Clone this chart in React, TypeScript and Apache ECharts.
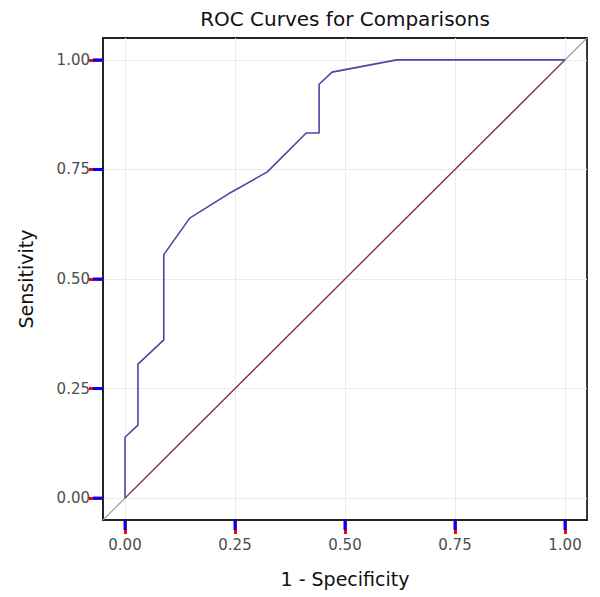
import React, { useEffect, useRef } from "react";
import * as echarts from "echarts";

const fpr = [0, 0, 0.0294, 0.0294, 0.0882, 0.0882, 0.1471, 0.2353, 0.3235, 0.4118, 0.4412, 0.4412, 0.4706, 0.6176, 1.0];
const tpr = [0, 0.1389, 0.1667, 0.3056, 0.3611, 0.5556, 0.6389, 0.6944, 0.7444, 0.8333, 0.8333, 0.9444, 0.9722, 1.0, 1.0];
const refLine = [[0, 0], [1, 1]];
const fullDiag = [[-0.05, -0.05], [1.05, 1.05]];
const tickValues = [0, 0.25, 0.5, 0.75, 1.0];
const axisMin = -0.05;
const axisMax = 1.05;

export default function App() {
  const ref = useRef<HTMLDivElement>(null);
  useEffect(() => {
    if (!ref.current) return;
    const chart = echarts.init(ref.current, null, { renderer: "svg" });
    const gridL = 103, gridR = 13, gridT = 38, gridB = 77;
    const labelStyle = {
      customValues: tickValues,
      formatter: (v: number) => v.toFixed(2),
      color: "#4d4d4d",
      fontSize: 15,
      fontFamily: "DejaVu Sans",
    };
    const axisBase = {
      type: "value",
      min: axisMin,
      max: axisMax,
      axisLine: { show: true, onZero: false, lineStyle: { color: "#222", width: 1.8 } },
      axisTick: { show: true, inside: false, length: 14, customValues: tickValues, lineStyle: { color: "#ff0000", width: 3 } },
      splitLine: { show: true, customValues: tickValues, lineStyle: { color: "#ebebeb", width: 1 } },
    };
    const texts = [
      {
        type: "text",
        x: 345,
        y: 19,
        style: {
          text: "ROC Curves for Comparisons",
          fill: "#111",
          font: "20px 'DejaVu Sans'",
          textAlign: "center",
          textVerticalAlign: "middle",
        },
      },
      {
        type: "text",
        x: 345,
        y: 579,
        style: {
          text: "1 - Specificity",
          fill: "#111",
          font: "19px 'DejaVu Sans'",
          textAlign: "center",
          textVerticalAlign: "middle",
        },
      },
      {
        type: "text",
        x: 26,
        y: 279,
        rotation: Math.PI / 2,
        style: {
          text: "Sensitivity",
          fill: "#111",
          font: "19px 'DejaVu Sans'",
          textAlign: "center",
          textVerticalAlign: "middle",
        },
      },
    ];
    chart.setOption({
      animation: false,
      backgroundColor: "#ffffff",
      grid: {
        left: gridL,
        right: gridR,
        top: gridT,
        bottom: gridB,
        show: true,
        borderColor: "#222",
        borderWidth: 1.8,
        backgroundColor: "transparent",
      },
      xAxis: { ...axisBase, axisLabel: { ...labelStyle, margin: 17 } },
      yAxis: { ...axisBase, axisLabel: { ...labelStyle, margin: 13 } },
      graphic: texts,
      series: [
        {
          type: "line",
          data: fullDiag,
          symbol: "none",
          lineStyle: { color: "#9e9e9e", width: 1.2 },
          silent: true,
          clip: true,
        },
        {
          type: "line",
          data: refLine,
          symbol: "none",
          lineStyle: { color: "#8b2c3a", width: 1.2 },
          silent: true,
        },
        {
          type: "line",
          data: fpr.map((x, i) => [x, tpr[i]]),
          symbol: "none",
          lineStyle: { color: "#4848a4", width: 1.6 },
          silent: true,
        },
      ],
    });
    try {
      const tickLen = 10;
      const ticks: any[] = [];
      const yBottom = chart.convertToPixel({ yAxisIndex: 0 }, axisMin) as number;
      const xLeft = chart.convertToPixel({ xAxisIndex: 0 }, axisMin) as number;
      tickValues.forEach((v) => {
        const px = chart.convertToPixel({ xAxisIndex: 0 }, v) as number;
        const py = chart.convertToPixel({ yAxisIndex: 0 }, v) as number;
        ticks.push({
          type: "rect",
          z: 100,
          silent: true,
          shape: { x: px - 1.5, y: yBottom, width: 3, height: tickLen },
          style: { fill: "#0000ff" },
        });
        ticks.push({
          type: "rect",
          z: 100,
          silent: true,
          shape: { x: xLeft - tickLen, y: py - 1.5, width: tickLen, height: 3 },
          style: { fill: "#0000ff" },
        });
      });
      chart.setOption({ graphic: [...texts, ...ticks] });
    } catch (e) {
      // keep base chart
    }
    return () => chart.dispose();
  }, []);
  return <div ref={ref} style={{ width: 600, height: 597, position: "absolute", left: 0, top: 0 }} />;
}
